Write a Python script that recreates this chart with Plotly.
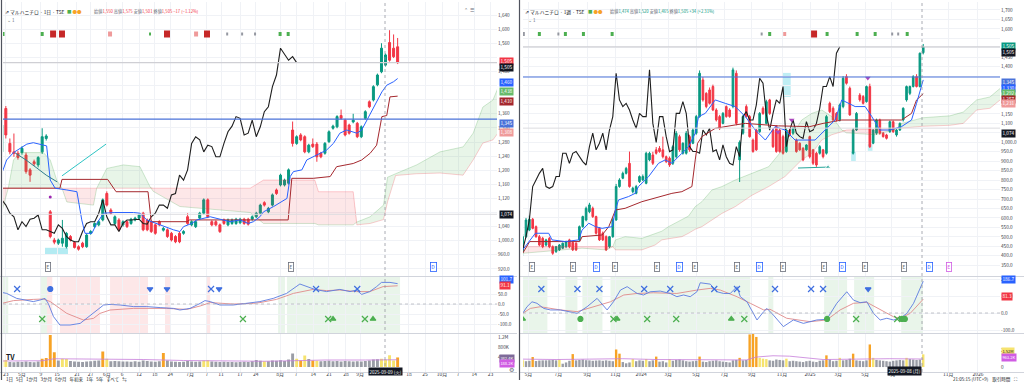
import plotly.graph_objects as go

W, H = 1024, 389
FONT = "Noto Sans CJK JP, Noto Sans, sans-serif"

# ======================= LEFT PANEL : daily =======================
L_open  = [1252,1375,1276,1252,1248,1250,1243,1201,1224,1215,1252,1290,1082,1002,993,993,983,1012,995,983,
           993,983,1021,1040,1045,1059,1134,1087,1049,1059,1045,1054,1049,1059,1064,1078,1059,1054,1045,1054,
           1030,1031,1021,1012,1021,1021,1068,1045,1040,1064,1078,1116,1054,1054,1045,1059,1045,1049,1049,1051,
           1061,1061,1061,1068,1078,1108,1082,1101,1144,1158,1158,1163,1314,1276,1300,1295,1252,1274,1274,1248,
           1248,1281,1319,1323,1355,1342,1328,1337,1333,1295,1347,1394,1399,1442,1479,1498,1562,1546,1550]
L_high  = [1340,1382,1290,1304,1255,1268,1250,1206,1230,1240,1319,1302,1087,1008,1006,1059,1025,1016,999,987,
           997,1020,1030,1052,1058,1120,1140,1092,1072,1064,1058,1058,1065,1068,1077,1082,1063,1058,1049,1058,
           1039,1035,1025,1016,1025,1030,1078,1058,1058,1082,1120,1120,1058,1058,1049,1063,1063,1063,1065,1065,
           1065,1065,1072,1082,1105,1112,1096,1134,1148,1190,1176,1205,1338,1299,1305,1299,1275,1290,1280,1252,
           1280,1313,1329,1356,1372,1346,1332,1360,1337,1327,1370,1398,1441,1474,1560,1531,1597,1585,1575]
L_low   = [1245,1290,1245,1238,1230,1244,1190,1167,1212,1208,1246,1284,1007,990,988,983,978,998,978,972,
           979,980,1017,1036,1041,1055,1097,1074,1045,1027,1040,1036,1045,1055,1060,1027,1027,1022,1017,1041,
           1026,1008,998,993,993,1017,1045,1041,1036,1060,1074,1064,1041,1041,1022,1045,1041,1045,1045,1047,
           1045,1043,1057,1064,1074,1097,1078,1097,1130,1154,1154,1159,1267,1272,1282,1248,1248,1263,1224,1234,
           1244,1277,1315,1319,1343,1296,1301,1333,1291,1291,1343,1376,1395,1438,1475,1494,1508,1518,1501]
L_close = [1328,1300,1252,1248,1236,1262,1196,1186,1218,1236,1295,1297,1012,996,1002,1007,1021,1002,981,976,
           983,1016,1026,1049,1054,1116,1101,1078,1068,1031,1054,1040,1061,1064,1073,1031,1031,1026,1021,1045,
           1035,1012,1002,997,997,1026,1049,1054,1054,1078,1116,1068,1045,1045,1026,1049,1059,1059,1061,1061,
           1049,1047,1068,1078,1101,1101,1092,1130,1134,1186,1172,1201,1276,1295,1286,1252,1271,1267,1238,1238,
           1276,1309,1325,1352,1347,1300,1305,1342,1295,1323,1366,1380,1437,1470,1546,1527,1512,1522,1505]
L_volume = [300,280,200,190,210,200,220,200,190,220,330,360,1280,590,260,330,320,240,220,210,
            200,220,230,250,260,620,330,230,240,230,220,220,210,230,210,260,240,220,210,230,
            560,260,220,210,200,210,240,220,210,220,260,270,220,210,200,210,200,200,190,200,
            210,200,230,280,250,230,230,260,250,270,240,300,540,330,260,460,320,260,250,230,
            240,250,230,240,220,240,230,220,230,220,240,260,300,310,330,300,470,260,382]
L_vol_kind = list("YYGGGGGGGGOOOOGYYGGGGGGGGOYGGGGGGGGGGGGGOGGGGGGGGGYYGGGGGGGGGGGGGYGGGGGGGYOYGOYGGGGGGGGGGGGGGGYYYYOGG")
L_vma_k = [0, 10, 13, 20, 26, 35, 45, 55, 65, 72, 80, 90, 98]
L_vma   = [240, 250, 330, 320, 330, 300, 260, 240, 230, 250, 280, 280, 290]

L_tenkan_k = [0,1.2,2.9,4.5,6.2,7.8,9.5,11.1,12,13.2,16.1,18.6,19.8,20.6,22.3,23.5,25.2,28,32.6,34.2,35.9,37.1,40,
              42.5,44.1,45,47,48.3,51.6,56.5,59,61,62.3,63.9,64.8,67.3,70.6,71.4,72.2,74.3,75.5,77.1,80.4,82.1,
              83.7,85.4,87.9,89.1,90.4,92,94.1,95.3,97,98]
L_tenkan   = [1191,1229,1250,1262,1274,1278,1274,1269,1172,1149,1144,1139,1059,1021,1021,1049,1078,1080,1080,1078,
              1059,1054,1040,1031,1026,1040,1049,1059,1068,1054,1059,1049,1054,1068,1082,1097,1120,1182,1196,1201,
              1229,1238,1257,1276,1305,1314,1305,1314,1342,1380,1422,1441,1451,1460]
L_kijun_k = [0,14.4,14.9,26.2,28.3,36.2,37,45.8,46.5,70.9,71.8,77.1,81.3,82.9,87,89.1,91.2,92.8,94.1,95.3,96.1,98]
L_kijun   = [1149,1149,1174,1174,1139,1139,1054,1054,1059,1059,1177,1177,1182,1210,1219,1229,1248,1271,1352,1355,1408,1410]
L_cloud_k = [0,1.6,2.9,4.5,10.3,12,13.6,14.9,16.1,22.7,23.5,26,30.1,34.2,36.7,37.5,44.1,61.5,64.8,77.5,78.4,87,
             87.9,91.2,94.5,95.5,97.5,102.7,108.5,114.2,116.7,119.1,121.6,123]
L_spanA   = [1082,1149,1229,1250,1250,1229,1172,1149,1110,1101,1149,1205,1215,1210,1153,1140,1097,1080,1049,1049,
             1045,1045,1053,1068,1101,1180,1190,1215,1252,1266,1305,1379,1399,1438]
L_spanB   = [1149,1149,1149,1149,1149,1149,1149,1149,1149,1149,1149,1149,1149,1149,1149,1149,1149,1149,1172,1172,
             1139,1139,1045,1049,1060,1110,1185,1190,1192,1186,1229,1277,1286,1308]
L_osc_k   = [0,1.2,3.7,7.8,9.5,10.7,11.5,12.8,14.4,16.9,19.4,21,23.5,25.2,26.8,29.3,32.6,35.9,39.2,42.5,44.1,46.6,
             49.1,50.3,51.6,54,57.3,62.3,63.9,67.2,70.5,73.8,75.4,77.5,80.4,83.7,86.2,87.8,89.1,91.1,92.8,94,96.1,98]
L_osc_fast= [58,53,28,12,20,28,3,-63,-105,-105,-97,-72,-30,-5,-2,-5,-13,-13,-18,-22,-30,-22,3,17,12,-5,-5,7,12,28,
             53,100,90,73,62,73,62,70,48,62,87,108,108,101.7]
L_osc2_k  = [0,2.9,7.8,10.3,12,16.1,20.2,22.7,24.3,26.8,32.6,40.8,45.8,49.1,51.6,57.3,62.3,63.9,68,72.2,77.1,80.4,
             83.7,87.8,91.1,94.4,98]
L_osc_slow= [3,17,23,25,12,-47,-80,-72,-47,-30,-22,-22,-27,-10,7,0,3,7,23,53,73,67,70,62,62,87,91.1]
L_band_green = [(0.3,1.6),(9.5,11.2),(68.4,70.1),(70.6,98.6)]
L_band_red   = [(11.2,12.5),(14.4,24.3),(26.8,36.2),(40.4,41.7),(50.8,51.6)]
L_sig_blue_x   = [3.8, 51.8, 77.8, 88]
L_sig_blue_dot = [12]
L_sig_blue_tri = [36.7, 40.9, 53.8]
L_sig_green_x  = [10, 59.7, 80.8, 89.9]
L_sig_green_tri= [82, 91.9]
L_xtick_k    = [1,5,9.7,13.7,18.6,22,26,29.8,34,37.9,41.7,46.6,50.8,54.3,59,62.9,68.9,72.9,77.1,81,85.2,88.7,100.8,104.8,109,113,117,121]
L_xtick_text = ["23","5月","9","15","21","27","6月","6","12","18","24","7月","7","11","17","24","8月","7","14","21","28","9月","18","25","10月","7","14","23"]
L_price_ticks = [920,960,1000,1040,1080,1120,1160,1200,1240,1280,1320,1360,1400,1440,1480,1520,1560,1600,1640]
L_price_hidden = [1520, 1440, 1400, 1080]
L_hline_blue, L_hline_gray, L_hline_low = 1345, 1505, 1075

# ======================= RIGHT PANEL : weekly =======================
R_open  = [420,501,536,593,554,501,492,457,492,448,422,431,440,448,484,470,466,484,554,589,
           633,651,607,545,519,501,448,501,589,766,810,836,889,739,730,792,801,783,907,933,
           960,968,960,924,916,889,924,1030,942,942,1030,995,1048,1136,1330,1259,1277,1295,1171,1136,
           1100,1189,1171,1189,1365,907,1048,1189,1136,1012,1065,1056,1180,1100,1224,1065,1083,1065,1030,951,
           1065,1048,1012,995,968,960,1030,960,942,942,960,942,1206,1180,1153,1118,1189,1347,1286,942,
           1065,1250,1242,1215,1295,995,1048,1118,1048,1039,1056,1109,1039,1065,1118,1224,1259,1295,1347,1295,1474]
R_high  = [515,600,612,600,560,510,500,490,500,455,452,462,470,480,490,478,472,560,612,660,
           680,660,612,552,528,508,505,600,780,810,845,870,951,765,775,825,830,950,950,950,
           975,980,1030,930,925,985,1060,1040,1000,1060,1040,1075,1145,1380,1345,1265,1290,1305,1180,1145,
           1160,1195,1180,1395,1380,1010,1145,1200,1145,1020,1070,1160,1190,1225,1230,1075,1090,1075,1040,1075,
           1070,1080,1020,1000,975,990,1035,965,950,985,965,1145,1215,1190,1160,1205,1350,1360,1295,1075,
           1160,1260,1250,1300,1310,1070,1125,1125,1055,1045,1115,1115,1070,1105,1185,1300,1300,1355,1360,1475,1520]
R_low   = [400,495,530,540,495,450,440,450,440,405,415,425,435,440,440,425,425,478,548,582,
           625,600,512,478,478,425,440,495,585,760,805,830,760,730,725,785,795,778,900,880,
           935,945,915,890,870,880,915,950,935,935,950,990,1040,1130,1215,1180,1200,1165,1110,1065,
           1095,1130,1130,1180,1090,790,1040,1130,1025,945,955,1050,1145,1095,1145,970,945,945,935,945,
           1030,1040,945,955,900,955,915,880,870,935,915,935,1155,1110,1110,1110,1180,1305,1140,935,
           1060,1215,1200,1210,970,990,1040,1040,1025,1015,1050,1050,1030,1060,1110,1215,1250,1290,1290,1290,1465]
R_close = [501,589,593,545,501,457,448,484,448,413,448,457,466,475,448,431,431,554,607,651,
           669,607,519,484,484,431,501,589,766,801,836,862,766,757,766,819,819,942,942,889,
           942,951,924,898,880,977,1048,960,995,1048,960,1065,1136,1365,1224,1189,1206,1171,1118,1074,
           1153,1136,1136,1383,1100,1000,1136,1136,1030,951,960,1153,1153,1215,1153,977,951,951,942,1065,
           1039,1074,951,960,907,986,924,889,880,977,924,1136,1162,1118,1118,1198,1339,1312,1145,1065,
           1153,1224,1206,1295,977,1065,1118,1048,1030,1021,1109,1056,1065,1100,1180,1295,1295,1347,1295,1471,1505]
R_volume = [0.82,0.70,0.75,1.20,0.72,0.78,0.80,0.80,0.82,0.85,
            0.80,0.90,0.40,0.55,0.75,1.55,0.80,0.85,0.90,0.82,
            0.80,0.75,0.78,0.80,0.75,0.80,0.75,0.70,2.10,1.60,
            0.60,0.45,0.55,0.95,0.70,0.80,0.75,0.95,0.70,0.80,
            1.25,0.65,0.70,0.55,0.95,0.75,0.85,0.90,0.80,0.70,
            0.65,0.70,0.75,1.25,0.65,0.60,0.70,0.75,0.80,0.70,
            0.65,0.60,0.55,0.80,0.85,1.10,0.80,0.85,3.90,4.20,
            3.60,1.10,1.00,0.95,0.80,0.75,0.90,0.85,0.80,1.00,
            0.70,0.75,0.70,0.65,0.60,0.70,0.75,0.65,0.60,0.75,
            0.80,1.40,0.90,0.70,0.75,1.10,0.80,0.85,1.00,1.60,
            0.80,0.75,0.70,0.80,2.70,1.10,0.85,0.80,0.75,0.70,
            0.65,0.75,0.80,0.85,0.80,1.10,0.95,0.90,0.85,0.90,1.52]
R_vol_kind = list("YGGOGGGGGG" "GYGGGOGGGG" "GGGGGGGGOO" "GGGYGGGYGG" "OGGGYGGGGG" "GGGOGGGGGG"
                  "GGGGGOGGOO" "OYYYGGGGGY" "GGGGGGGGGG" "GOGGGYGGGO" "GGGGOYGGGG" "GGGGGYGGGG" "Y")
R_vma_k = [0, 10, 20, 30, 40, 50, 60, 67, 70, 75, 80, 85, 90, 100, 110, 120]
R_vma   = [0.95, 0.90, 0.95, 1.00, 0.90, 0.85, 0.80, 0.85, 1.20, 1.35, 1.30, 1.10, 0.90, 0.95, 1.00, 0.96]

R_tenkan_k = [0,3.8,7.8,8.8,12.8,16.8,17.8,19.8,21.8,23.8,26.8,27.8,28.7,31.7,33.7,34.7,37.7,40.7,42.7,44.7,47.7,
              49.7,51.7,52.7,54.7,57.7,60.7,63.7,66.7,69.7,72.7,75.6,78.6,81.6,87.6,90.6,93.6,95.6,97.6,99.6,102.6,
              104.6,107,110,113.5,116.5,118,120]
R_tenkan   = [431,519,519,484,475,484,536,572,554,545,554,642,695,713,730,766,818,889,907,889,942,977,1048,1136,
              1153,1224,1206,1189,1136,1065,1012,1083,1065,1012,1012,1065,1118,1224,1206,1189,1189,1136,1065,1065,
              1083,1118,1206,1330]
R_kijun_k = [0,2.1,17.1,17.8,23.8,25.8,27.8,30.7,35.7,39.7,44.7,47.7,50.7,51.7,52.4,53.7,57.7,63.7,66.7,76.6,
             86,90,95.6,113.5,116.5,118,120]
R_kijun   = [413,475,475,501,510,554,642,651,686,704,730,739,766,907,995,1030,1074,1092,1100,1087,1083,1100,1118,
             1118,1153,1224,1257]
R_cloud_k = [0,17.8,25,27,27.8,30.7,35.7,39.7,41.7,43.7,47.7,49.7,51.7,53.7,56.7,59.7,63.7,68.7,73.7,78.6,83.6,
             86.6,89.6,92.6,95.6,97,105.6,112,113.5,120,128,132,136,140,143.5]
R_spanA   = [413,440,431,448,484,501,492,519,530,554,589,610,660,686,748,766,801,836,871,977,1118,1153,1171,1136,
             1065,1050,1040,1070,1100,1130,1140,1160,1224,1240,1292]
R_spanB   = [448,448,448,448,431,431,431,457,484,490,501,519,540,554,590,624,660,720,766,819,907,942,1012,1040,
             1056,1065,1070,1075,1075,1085,1090,1100,1171,1180,1231]
R_osc_k   = [0,1.3,2.8,4.3,6.3,8.3,11.3,16.3,19.3,22.3,25.3,27.2,29.3,31.3,34.3,36.2,38.2,41.2,44.2,46.2,48.2,50.2,
             52.2,53.2,56.2,58.2,60.2,62.2,64.2,65.2,67.2,70.2,72.2,73.2,75.1,78.1,81.1,84.1,88.1,91.1,94.1,97.1,
             99.1,101.1,103.1,105.1,107.1,109.1,111.1,113.1,115.1,117.1,120]
R_osc_fast= [-2,37,66,57,27,18,18,-2,37,86,18,66,135,155,115,106,125,129,115,96,106,96,125,178,170,125,115,115,
             155,96,66,-41,8,27,-12,-80,-41,-61,-41,-37,57,125,76,61,66,-2,-41,-31,-41,-31,-2,57,186.7]
R_osc2_k  = [0,2.3,5.3,11.3,16.3,21.3,26.3,30.3,34.3,39.2,46.2,52.2,56.2,59.2,64.2,68.2,72.2,74.1,79.1,86.1,91.1,
             95.1,99.1,103.1,107.1,111.1,113.1,116.1,120]
R_osc_slow= [-2,27,37,18,8,37,66,106,115,119,115,135,145,135,96,57,18,22,-31,-51,-41,18,57,63,18,-22,-31,-2,81.3]
R_band_green = [(-0.1,7.4),(12.8,16.4),(17.9,23.9),(26.3,68.2),(73.6,75.1),(90.3,97.2),(99.3,105.3),(113.4,119.9)]
R_band_red   = []
R_sig_blue_x   = [5.6,16.4,23,36.4,44.2,57.4,64.2,75.6,86.4,90]
R_sig_blue_tri = [103.5]
R_sig_green_x  = [27.2,37.3,46,66.4,99.9,112.2]
R_sig_green_tri= [0,28.3,62.5]
R_sig_green_dot= [17.3,91.2,113.6,114.5]
R_xtick_k    = [1.7,10.7,19.4,27.8,35.5,43.6,52,60.4,68.7,77.7,86.1,94.5,102.6,110.5,127.5,136.4]
R_xtick_text = ["5月","7月","9月","11月","2024","3月","5月","7月","9月","11月","2025","3月","5月","7月","11月","2026"]
R_price_ticks = list(range(350, 1701, 50))
R_price_hidden = [1550, 1500, 1350, 1300, 1250, 1050]
R_hline_blue, R_hline_gray, R_hline_low = 1345, 1505, 1075

# ======================= geometry helpers =======================
def px(x):
    return x / W

def py(y):
    return 1 - y / H

MAIN_DOM = [py(276), py(2)]
IND_DOM = [py(333), py(277)]
VOL_DOM = [py(372), py(334)]

UP, DOWN = "#089981", "#F23645"
GRID = "#F0F2F6"
VOLC = {"G": "#9A9DA6", "O": "#F7A325", "Y": "#F6E36E"}

fig = go.Figure()
shapes, annos = [], []


def fmt_price(v, hidden):
    if v in hidden:
        return ""
    return f"{v:,.1f}" if v <= 1000 else f"{v:,}"


def panel(ax, op, hi, lo, cl, vol, kind, vma_k, vma, tk_k, tk, kj_k, kj, ck, sa, sb,
          ok, ofast, ok2, oslow, bands_g, bands_r):
    m, i_, v_ = ax
    n = len(cl)
    idx = list(range(n))
    xm = "x" + (m if m != "1" else "")
    ym = "y" + (m if m != "1" else "")
    xi, yi, xv, yv = "x" + i_, "y" + i_, "x" + v_, "y" + v_
    g_up = [a if a >= b else b for a, b in zip(sa, sb)]
    r_up = [b if b > a else a for a, b in zip(sa, sb)]
    fig.add_trace(go.Scatter(x=ck, y=sb, mode="lines", line=dict(width=0), showlegend=False, xaxis=xm, yaxis=ym))
    fig.add_trace(go.Scatter(x=ck, y=g_up, mode="lines", line=dict(width=0), fill="tonexty",
                             fillcolor="rgba(76,175,80,0.13)", showlegend=False, xaxis=xm, yaxis=ym))
    fig.add_trace(go.Scatter(x=ck, y=sa, mode="lines", line=dict(width=0), showlegend=False, xaxis=xm, yaxis=ym))
    fig.add_trace(go.Scatter(x=ck, y=r_up, mode="lines", line=dict(width=0), fill="tonexty",
                             fillcolor="rgba(242,54,69,0.12)", showlegend=False, xaxis=xm, yaxis=ym))
    fig.add_trace(go.Scatter(x=ck, y=sa, mode="lines", line=dict(width=0.7, color="rgba(67,160,71,0.35)"),
                             showlegend=False, xaxis=xm, yaxis=ym))
    fig.add_trace(go.Scatter(x=ck, y=sb, mode="lines", line=dict(width=0.7, color="rgba(242,54,69,0.35)"),
                             showlegend=False, xaxis=xm, yaxis=ym))
    fig.add_trace(go.Scatter(x=[i - 25 for i in idx[25:]], y=cl[25:], mode="lines",
                             line=dict(width=1.1, color="#1E1E1E"), showlegend=False, xaxis=xm, yaxis=ym))
    fig.add_trace(go.Scatter(x=kj_k, y=kj, mode="lines", line=dict(width=1, color="#A5282E"),
                             showlegend=False, xaxis=xm, yaxis=ym))
    fig.add_trace(go.Scatter(x=tk_k, y=tk, mode="lines", line=dict(width=1, color="#2962FF"),
                             showlegend=False, xaxis=xm, yaxis=ym))
    fig.add_trace(go.Candlestick(x=idx, open=op, high=hi, low=lo, close=cl,
                                 increasing=dict(line=dict(color=UP, width=1), fillcolor=UP),
                                 decreasing=dict(line=dict(color=DOWN, width=1), fillcolor=DOWN),
                                 whiskerwidth=0, showlegend=False, xaxis=xm, yaxis=ym))
    for a, b in bands_g:
        shapes.append(dict(type="rect", xref=xi, yref=yi + " domain", x0=a, x1=b, y0=0, y1=1,
                           fillcolor="rgba(76,175,80,0.12)", line=dict(width=0), layer="below"))
    for a, b in bands_r:
        shapes.append(dict(type="rect", xref=xi, yref=yi + " domain", x0=a, x1=b, y0=0, y1=1,
                           fillcolor="rgba(242,54,69,0.12)", line=dict(width=0), layer="below"))
    shapes.append(dict(type="line", xref=xi + " domain", yref=yi, x0=0, x1=1, y0=0, y1=0,
                       line=dict(color="#B2B5BE", width=0.8, dash="dot")))
    fig.add_trace(go.Scatter(x=ok2, y=oslow, mode="lines", line=dict(width=0.9, color="#E08A8A"),
                             showlegend=False, xaxis=xi, yaxis=yi))
    fig.add_trace(go.Scatter(x=ok, y=ofast, mode="lines", line=dict(width=0.9, color="#5B7BE0"),
                             showlegend=False, xaxis=xi, yaxis=yi))
    fig.add_trace(go.Bar(x=idx, y=vol, marker=dict(color=[VOLC[c] for c in kind], line=dict(width=0)),
                         width=0.72, showlegend=False, xaxis=xv, yaxis=yv))
    fig.add_trace(go.Scatter(x=vma_k, y=vma, mode="lines", line=dict(width=0.8, color="#C77DDA"),
                             showlegend=False, xaxis=xv, yaxis=yv))


def sig(xs, yv, sym, color, size, xi, yi, lw=1.2):
    if not xs:
        return
    fig.add_trace(go.Scatter(x=xs, y=[yv] * len(xs), mode="markers",
                             marker=dict(symbol=sym, size=size, color=color, line=dict(width=lw, color=color)),
                             showlegend=False, xaxis=xi, yaxis=yi))


panel(("1", "2", "3"), L_open, L_high, L_low, L_close, L_volume, L_vol_kind, L_vma_k, L_vma,
      L_tenkan_k, L_tenkan, L_kijun_k, L_kijun, L_cloud_k, L_spanA, L_spanB,
      L_osc_k, L_osc_fast, L_osc2_k, L_osc_slow, L_band_green, L_band_red)
panel(("4", "5", "6"), R_open, R_high, R_low, R_close, R_volume, R_vol_kind, R_vma_k, R_vma,
      R_tenkan_k, R_tenkan, R_kijun_k, R_kijun, R_cloud_k, R_spanA, R_spanB,
      R_osc_k, R_osc_fast, R_osc2_k, R_osc_slow, R_band_green, R_band_red)

BLUE_SIG, GREEN_SIG = "#3F6FE0", "#4CAF50"
sig(L_sig_blue_x, 75, "x-thin", BLUE_SIG, 6, "x2", "y2")
sig(L_sig_blue_dot, 75, "circle", BLUE_SIG, 5, "x2", "y2")
sig(L_sig_blue_tri, 75, "triangle-down", BLUE_SIG, 5, "x2", "y2")
sig(L_sig_green_x, -75, "x-thin", GREEN_SIG, 6, "x2", "y2")
sig(L_sig_green_tri, -75, "triangle-up", GREEN_SIG, 5, "x2", "y2")
sig(R_sig_blue_x, 141, "x-thin", BLUE_SIG, 6, "x5", "y5")
sig(R_sig_blue_tri, 141, "triangle-down", BLUE_SIG, 5, "x5", "y5")
sig(R_sig_green_x, -35, "x-thin", GREEN_SIG, 6, "x5", "y5")
sig(R_sig_green_tri, -35, "triangle-up", GREEN_SIG, 5, "x5", "y5")
sig(R_sig_green_dot, -35, "circle", GREEN_SIG, 5, "x5", "y5")

fig.add_trace(go.Scatter(x=[14.9, 25.8], y=[1184, 1274], mode="lines", line=dict(color="#2EC4C4", width=1),
                         showlegend=False, xaxis="x", yaxis="y"))
fig.add_trace(go.Scatter(x=[3.3, 6, 8.7, 11, 13.7], y=[1249, 1229, 1206, 1186, 1167], mode="lines",
                         line=dict(color="#2E7D8C", width=1), showlegend=False, xaxis="x", yaxis="y"))
fig.add_trace(go.Scatter(x=[82.5, 91.5], y=[864, 869], mode="lines+markers", line=dict(color="#26A69A", width=1),
                         marker=dict(size=[0, 5], symbol="triangle-up", color="#26A69A"),
                         showlegend=False, xaxis="x4", yaxis="y4"))
fig.add_trace(go.Scatter(x=[12], y=[1124], mode="markers", marker=dict(size=3, color="#9C27B0"),
                         showlegend=False, xaxis="x", yaxis="y"))
fig.add_trace(go.Scatter(x=[76.5, 80.6, 103.4], y=[1055, 1118, 1340], mode="markers",
                         marker=dict(size=5, symbol="triangle-down", color="#AB47BC"),
                         showlegend=False, xaxis="x4", yaxis="y4"))
shapes += [
    dict(type="rect", xref="x", yref="y", x0=10.7, x1=16.4, y0=960, y1=980, fillcolor="rgba(128,222,234,0.6)",
         line=dict(width=0), layer="below"),
    dict(type="rect", xref="x4", yref="y4", x0=77.9, x1=80.3, y0=1240, y1=1367, fillcolor="rgba(128,222,234,0.5)",
         line=dict(width=0), layer="below"),
    dict(type="rect", xref="x4", yref="y4", x0=98.4, x1=99.8, y0=900, y1=950, fillcolor="rgba(128,222,234,0.5)",
         line=dict(width=0), layer="below"),
    dict(type="rect", xref="x4", yref="y4", x0=103.4, x1=104.8, y0=955, y1=990, fillcolor="rgba(128,222,234,0.5)",
         line=dict(width=0), layer="below"),
]

for xr, yr, b, g, lo in (("x", "y", L_hline_blue, L_hline_gray, L_hline_low),
                         ("x4", "y4", R_hline_blue, R_hline_gray, R_hline_low)):
    shapes.append(dict(type="line", xref=xr + " domain", yref=yr, x0=0, x1=1, y0=b, y1=b,
                       line=dict(color="#4A72D9", width=1.1)))
    shapes.append(dict(type="line", xref=xr + " domain", yref=yr, x0=0, x1=1, y0=g, y1=g,
                       line=dict(color="#CFCFD4", width=1.2)))
    shapes.append(dict(type="line", xref=xr + " domain", yref=yr, x0=0, x1=1, y0=lo, y1=lo,
                       line=dict(color="#DCDCE0", width=1)))

for x in (385, 922):
    shapes.append(dict(type="line", xref="paper", yref="paper", x0=px(x), x1=px(x), y0=py(372), y1=py(2),
                       line=dict(color="#9598A1", width=0.8, dash="dot")))

for x0, x1 in ((0, 517), (519, 1024)):
    for yy in (276.5, 333.5, 372.5):
        shapes.append(dict(type="line", xref="paper", yref="paper", x0=px(x0), x1=px(x1), y0=py(yy), y1=py(yy),
                           line=dict(color="#D1D4DC", width=1)))
for xx in (1.5, 519.5):
    shapes.append(dict(type="line", xref="paper", yref="paper", x0=px(xx), x1=px(xx), y0=py(380), y1=py(0),
                       line=dict(color="#50535E", width=1.2)))

L_top = [(0.3, "#4CAF50", 3), (10, "#4CAF50", 3), (12.7, "#C62828", 6), (14.9, "#C62828", 6), (26.8, "#EF9A9A", 4),
         (36.7, "#4CAF50", 2), (40.9, "#C62828", 6), (48.1, "#EF9A9A", 4), (50.8, "#C62828", 6), (55.8, "#9598A1", 2),
         (59.5, "#9598A1", 2), (62.7, "#9598A1", 2), (68.9, "#4CAF50", 3), (70.9, "#4CAF50", 3)]
R_top = [(0.2, "#9598A1", 3), (5, "#4CAF50", 3), (10.7, "#9598A1", 2), (12.8, "#4CAF50", 3),
         (18.2, "#4CAF50", 3), (26.8, "#4CAF50", 3), (71.6, "#9598A1", 2), (74, "#4CAF50", 3),
         (78.5, "#EF9A9A", 3), (87.3, "#C62828", 6), (91.2, "#4CAF50", 3), (100.2, "#4CAF50", 3),
         (105.6, "#4CAF50", 3), (110.7, "#9598A1", 2), (112.5, "#9598A1", 2), (115.2, "#4CAF50", 3)]
for xr, items, ppb in (("x", L_top, 4.04), ("x4", R_top, 3.34)):
    for k, c, s in items:
        half = s / 2 / ppb
        shapes.append(dict(type="rect", xref=xr, yref="paper", x0=k - half, x1=k + half,
                           y0=py(34 + s / 2 + 0.5), y1=py(34 - s / 2 - 0.5), fillcolor=c, line=dict(width=0)))


def icon(xpix, text, color, bg="white"):
    annos.append(dict(x=px(xpix), y=py(272), xref="paper", yref="paper", text=text, showarrow=False,
                      font=dict(size=5, color=color, family=FONT), bgcolor=bg, bordercolor=color,
                      borderwidth=0.8, borderpad=0.5))

for xp in (45, 288):
    icon(xp, "E", "#6A6D78")
icon(433, "D", "#2962FF")
for xp in (532, 573, 615, 657, 698, 740, 786, 827, 868, 907):
    icon(xp, "E", "#6A6D78")
for xp in (596, 679, 763, 846, 933):
    icon(xp, "D", "#2962FF")
icon(952, "E", "#D05CE3")


def tag(xpix, ypix, text, bg, fg="white", size=5):
    annos.append(dict(x=px(xpix), y=py(ypix), xref="paper", yref="paper", text=text, showarrow=False,
                      xanchor="left", font=dict(size=size, color=fg, family=FONT), bgcolor=bg, borderpad=0.4))

for ypix, t, bg in ((57, "1,505", "#F23645"), (63, "1,505", "#131722"), (78.5, "1,460", "#2962FF"),
                    (86.5, "1,438", "#66BB6A"), (97, "1,410", "#A5282E"), (119, "1,345", "#4A72D9"),
                    (132, "1,308", "#EF9A9A"), (214, "1,074", "#131722"), (284, "101.7", "#2962FF"),
                    (289.5, "91.1", "#F23645")):
    tag(499, ypix, t, bg, size=4.7)
tag(499, 363, "382.4K", "#7E6A99", size=4.0)
tag(499, 368.3, "188.2K", "#D05CE3", size=4.0)
for ypix, t, bg in ((42, "1,505", "#089981"), (47.5, "1,505", "#131722"), (78, "1,345", "#4A72D9"),
                    (84, "1,330", "#2962FF"), (89, "1,292", "#66BB6A"), (94.7, "1,257", "#A5282E"),
                    (99.5, "1,231", "#EF9A9A"), (129, "1,074", "#131722"), (284, "186.7", "#2962FF"),
                    (301, "81.3", "#F23645")):
    tag(1001, ypix, t, bg, size=4.7)
tag(1001, 356.3, "1.52M", "#F6E36E", "#131722", 4.0)
tag(1001, 361.6, "963.2K", "#D05CE3", size=4.0)

for xpix, t in ((385, "2025-09-09 (火)"), (922, "2025-09-08 (月)")):
    annos.append(dict(x=px(xpix), y=py(376), xref="paper", yref="paper", text=t, showarrow=False,
                      font=dict(size=4.5, color="white", family=FONT), bgcolor="#131722", borderpad=0.6))


def text(xpix, ypix, t, size=5.0, color="#131722", anchor="left"):
    annos.append(dict(x=px(xpix), y=py(ypix), xref="paper", yref="paper", text=t, showarrow=False,
                      xanchor=anchor, font=dict(size=size, color=color, family=FONT)))

RED, TEAL, GRAYT = "#F23645", "#089981", "#6A6D78"
text(3, 6, "⇗ マルハニチロ · 1日 · TSE", 4.8)
text(65, 6, "<span style='color:#4CAF50'>■</span> <span style='color:#F7A325'>●●</span>", 4.5)
text(92, 6, f"<span style='color:{GRAYT}'>始値</span><span style='color:{RED}'>1,550</span> "
            f"<span style='color:{GRAYT}'>高値</span><span style='color:{RED}'>1,575</span> "
            f"<span style='color:{GRAYT}'>安値</span><span style='color:{RED}'>1,501</span> "
            f"<span style='color:{GRAYT}'>終値</span><span style='color:{RED}'>1,505 −17 (−1.12%)</span>", 4.2)
text(5, 15, "⌄ 1", 4.5, GRAYT)
text(523, 6, "⇗ マルハニチロ · 1週 · TSE", 4.8)
text(586, 6, "<span style='color:#4CAF50'>■</span> <span style='color:#F7A325'>●●</span>", 4.5)
text(608, 6, f"<span style='color:{GRAYT}'>始値</span><span style='color:{TEAL}'>1,474</span> "
             f"<span style='color:{GRAYT}'>高値</span><span style='color:{TEAL}'>1,520</span> "
             f"<span style='color:{GRAYT}'>安値</span><span style='color:{TEAL}'>1,465</span> "
             f"<span style='color:{GRAYT}'>終値</span><span style='color:{TEAL}'>1,505 +34 (+2.31%)</span>", 4.2)
text(526, 15, "⌄ 1", 4.5, GRAYT)
text(462, 5, "⌃  ☰", 4.5, GRAYT)
text(4, 364, "<b>TV</b>", 7, "#131722")
text(4, 385, "1日   5日   1か月   3か月   6か月   年初来   1年   5年   すべて   ⇆", 4.5, "#131722")
text(1020, 385, "21:05:15 (UTC+9)    取引時間    ⛶", 4.5, "#131722", "right")
text(511, 376, "⚙", 6, GRAYT, "center")

# ======================= axes =======================
LX = [px(3), px(497)]
RX = [px(523), px(1000)]
common_x = dict(showgrid=True, gridcolor=GRID, gridwidth=1, zeroline=False, showline=False, ticks="",
                rangeslider=dict(visible=False), fixedrange=True)
common_y = dict(showgrid=True, gridcolor=GRID, gridwidth=1, zeroline=False, showline=False, ticks="",
                side="right", tickfont=dict(size=4.7, color="#3A3D47", family=FONT), fixedrange=True)

lay = {}
for (xm, xi, xv, ym, yi, yv, dom, xr, tk, tt, ptk, hid, yr, ir, itv, itt, vr, vtv, vtt) in (
        ("xaxis", "xaxis2", "xaxis3", "yaxis", "yaxis2", "yaxis3", LX, [0.3, 122.6], L_xtick_k, L_xtick_text,
         L_price_ticks, L_price_hidden, [900, 1677], [-145, 135], [-100, -50, 0, 50],
         ["-100.0", "-50.0", "0.0", "50.0"], [-200, 1320], [400, 800, 1200], ["400K", "800K", "1.2M"]),
        ("xaxis4", "xaxis5", "xaxis6", "yaxis4", "yaxis5", "yaxis6", RX, [0.1, 143], R_xtick_k, R_xtick_text,
         R_price_ticks, R_price_hidden, [293, 1742], [-117.6, 211.8], [-100, 0, 100, 200],
         ["-100.0", "0.0", "100.0", "200.0"], [-0.59, 3.95], [0, 2, 4], ["0", "2.0M", "4.0M"])):
    sx = lambda n: n.replace("axis", "")
    lay[xm] = dict(common_x, domain=dom, range=xr, anchor=sx(ym), tickvals=tk, showticklabels=False)
    lay[xi] = dict(common_x, domain=dom, range=xr, anchor=sx(yi), tickvals=tk, showticklabels=False)
    lay[xv] = dict(common_x, domain=dom, range=xr, anchor=sx(yv), tickvals=tk, ticktext=tt, showticklabels=True,
                   ticklabelstandoff=-2, tickfont=dict(size=5, color="#3A3D47", family=FONT))
    lay[ym] = dict(common_y, domain=MAIN_DOM, range=yr, anchor=sx(xm), tickvals=ptk,
                   ticktext=[fmt_price(v, hid) for v in ptk])
    lay[yi] = dict(common_y, domain=IND_DOM, range=ir, anchor=sx(xi), tickvals=itv, ticktext=itt)
    lay[yv] = dict(common_y, domain=VOL_DOM, range=vr, anchor=sx(xv), tickvals=vtv, ticktext=vtt, showgrid=False)

fig.update_layout(width=W, height=H, margin=dict(l=0, r=0, t=0, b=0), paper_bgcolor="white",
                  plot_bgcolor="white", showlegend=False, bargap=0.2, shapes=shapes, annotations=annos,
                  font=dict(family=FONT), hovermode=False, **lay)
fig.write_html("out.html", config={"displayModeBar": False, "staticPlot": True},
               post_script="document.body.style.margin='0';document.body.style.overflow='hidden';")
